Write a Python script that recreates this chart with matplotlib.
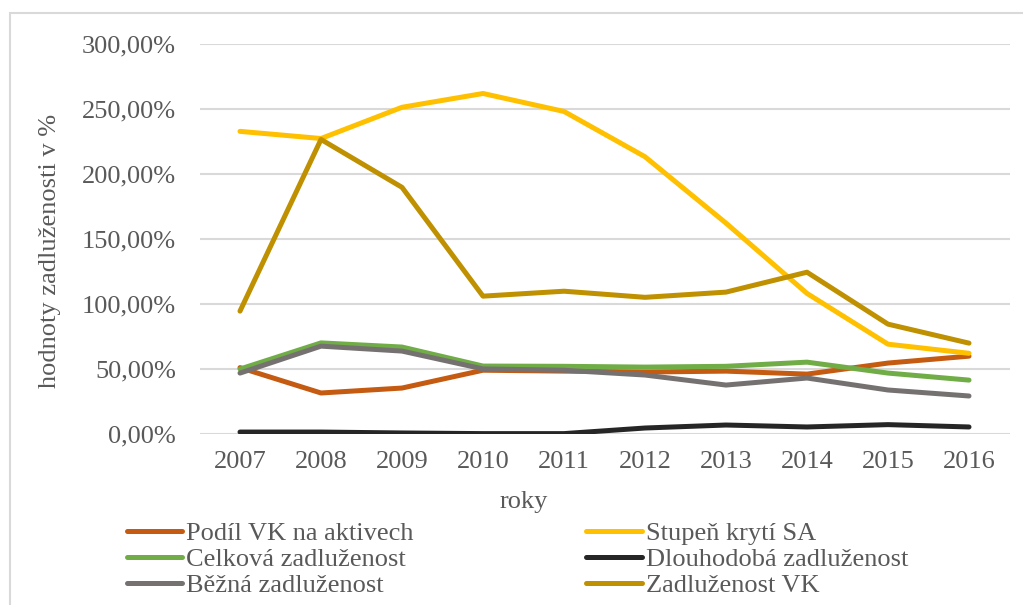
import matplotlib.pyplot as plt
from matplotlib.patches import Rectangle
from matplotlib.ticker import FuncFormatter, MultipleLocator

plt.rcParams['font.family'] = ['Liberation Serif', 'DejaVu Serif']

roky = [2007, 2008, 2009, 2010, 2011, 2012, 2013, 2014, 2015, 2016]

podil_vk = [51.0, 31.5, 35.3, 49.0, 48.3, 47.6, 48.3, 46.0, 54.5, 59.8]
stupen_kryti = [232.5, 227.0, 251.0, 261.6, 247.8, 213.0, 162.0, 108.0, 69.0, 62.0]
celkova = [49.9, 70.0, 66.8, 52.2, 52.0, 51.4, 52.0, 55.2, 46.8, 41.4]
dlouhodoba = [1.5, 1.5, 0.8, 0.3, 0.3, 4.6, 6.9, 5.4, 7.2, 5.4]
bezna = [46.8, 67.5, 63.7, 50.0, 49.0, 45.3, 37.6, 43.0, 33.8, 29.2]
zadluzenost_vk = [94.4, 226.3, 189.5, 105.9, 109.7, 105.0, 109.0, 124.3, 84.4, 69.8]

serie = [
    ("Podíl VK na aktivech", podil_vk, "#C55A11"),
    ("Stupeň krytí SA", stupen_kryti, "#FFC000"),
    ("Celková zadluženost", celkova, "#70AD47"),
    ("Dlouhodobá zadluženost", dlouhodoba, "#262626"),
    ("Běžná zadluženost", bezna, "#767171"),
    ("Zadluženost VK", zadluzenost_vk, "#BF9000"),
]

W, H = 1023, 605
fig = plt.figure(figsize=(W / 100, H / 100), dpi=100)
ax = fig.add_axes([199.5 / W, 1 - 434 / H, 810 / W, 390.5 / H])

# ramecek grafu
fig.patches.append(Rectangle((10 / W, -0.1), 1.2, 1 - 13 / H + 0.1,
                             transform=fig.transFigure, fill=False,
                             edgecolor="#D9D9D9", linewidth=1.5))

x = list(range(len(roky)))
lines = {}
for nazev, hodnoty, barva in serie:
    lines[nazev], = ax.plot(x, hodnoty, color=barva, linewidth=3.6,
                            solid_capstyle="round", solid_joinstyle="round",
                            label=nazev)

ax.set_xlim(-0.5, len(roky) - 0.5)
ax.set_ylim(0, 300)
ax.yaxis.set_major_locator(MultipleLocator(50))
ax.yaxis.set_major_formatter(FuncFormatter(lambda v, p: f"{v:.2f}".replace(".", ",") + "%"))
ax.set_xticks(x)
ax.set_xticklabels([str(r) for r in roky])
ax.grid(axis="y", color="#D9D9D9", linewidth=1.5)
ax.set_axisbelow(True)
for s in ax.spines.values():
    s.set_visible(False)
ax.tick_params(axis="both", length=0, colors="#595959", labelsize=19)
ax.tick_params(axis="y", pad=17)
ax.tick_params(axis="x", pad=12)

fig.text(524 / W, 1 - 502 / H, "roky", ha="center", va="center",
         fontsize=19, color="#595959")
fig.text(50 / W, 1 - 251 / H, "hodnoty zadluženosti v %", ha="center", va="center",
         rotation=90, fontsize=19, color="#595959")

poradi = ["Podíl VK na aktivech", "Celková zadluženost", "Běžná zadluženost",
          "Stupeň krytí SA", "Dlouhodobá zadluženost", "Zadluženost VK"]
leg = fig.legend([lines[n] for n in poradi], poradi, ncol=2,
                 loc="upper left", bbox_to_anchor=(127 / W, 1 - 522 / H),
                 frameon=False, fontsize=19, handlelength=2.1, handletextpad=0.15,
                 columnspacing=6.53, labelspacing=0.09, borderpad=0, borderaxespad=0)
for t in leg.get_texts():
    t.set_color("#595959")

fig.savefig("out.png", dpi=100)
